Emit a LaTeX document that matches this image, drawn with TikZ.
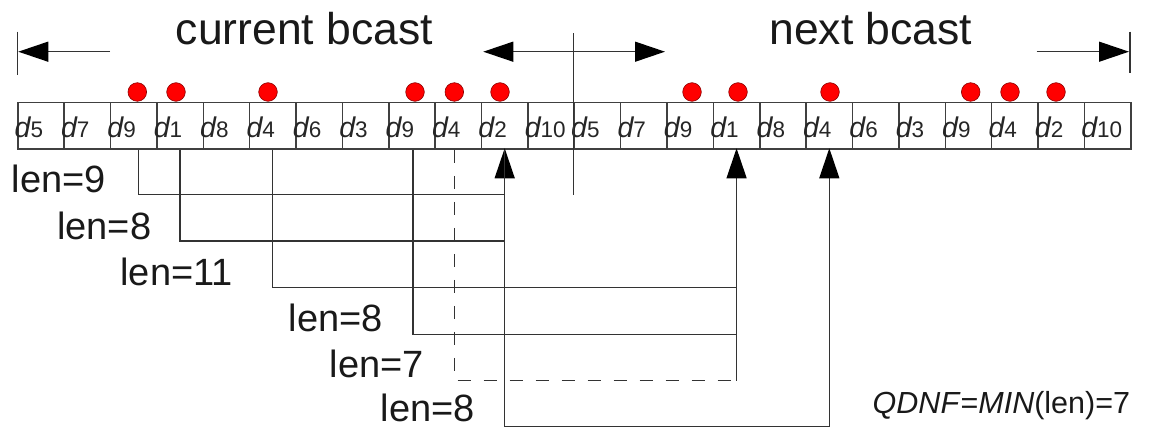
\documentclass[tikz,border=0pt]{standalone}
\usepackage{fontspec}
\setmainfont{Liberation Sans}
\usetikzlibrary{arrows.meta,calc}

% data item label: italic d with a smaller upright index
\newcommand\celld[1]{{\fontsize{28.5}{28}\selectfont\itshape d}{\fontsize{22.5}{22}\selectfont #1}}

\begin{document}
\begin{tikzpicture}[x=1pt,y=-1pt,
  line/.style={draw=black!80, line width=1.3pt},
  dashline/.style={line, line width=1.5pt, dash pattern=on 13pt off 13pt},
  cellbox/.style={draw=black!75, line width=1.5pt, minimum width=46.375pt,
    minimum height=46.6pt, inner sep=0pt, anchor=north west},
  celltext/.style={inner sep=0pt, anchor=base west, text=black!85},
  flag/.style={circle, fill=red, draw=red!55!black, line width=0.6pt,
    minimum size=18.6pt, inner sep=0pt},
  title/.style={inner sep=0pt, anchor=base, font=\fontsize{44.5}{50}\selectfont, text=black!90},
  lenlabel/.style={inner sep=0pt, anchor=base, font=\fontsize{38}{44}\selectfont, text=black!90},
  bigtip/.style={-{Triangle[length=30pt,width=20pt,color=black]}},
]
\useasboundingbox (0,0) rectangle (1151,428);

% broadcast cycle: two identical runs of twelve slots
\foreach \lab [count=\i from 0] in {5,7,9,1,8,4,6,3,9,4,2,10,5,7,9,1,8,4,6,3,9,4,2,10} {
  \node[cellbox] (c\i) at (17+\i*46.375, 101.7) {};
}
\begin{scope}
  \clip (0,100) rectangle (1130,150);
  \foreach \lab [count=\i from 0] in {5,7,9,1,8,4,6,3,9,4,2,10,5,7,9,1,8,4,6,3,9,4,2,10} {
    \node[celltext] (t\i) at ($(c\i.north west)+(-2.5,35.5)$) {\celld{\lab}};
  }
\end{scope}

% requested items
\foreach \x [count=\k] in {137.3,176,268,415,454.3,500,692,738,830,970.7,1010,1056}
  \node[flag] (dot\k) at (\x,92) {};

% titles and extent arrows
\node[title] (cur) at (304.4,45) {current bcast};
\node[title] (nxt) at (870.9,45) {next bcast};

\coordinate (lt) at (17.3,31.7);  \coordinate (lb) at (17.3,75);
\coordinate (la) at (110,51.7);   \coordinate (lh) at (18.3,51.7);
\coordinate (mt) at (573.5,33.3); \coordinate (mb) at (573.5,195);
\coordinate (mm) at (573.5,51.7); \coordinate (ml) at (483.3,51.7);
\coordinate (mr) at (665,51.7);
\coordinate (rt) at (1130,31.7);  \coordinate (rb) at (1130,72.7);
\coordinate (ra) at (1036.7,51.7); \coordinate (rh) at (1129,51.7);

\draw[line] (lt) -- (lb);
\draw[line,bigtip] (la) -- (lh);
\draw[line] (mt) -- (mb);
\draw[line,bigtip] (mm) -- (ml);
\draw[line,bigtip] (mm) -- (mr);
\draw[line] (rt) -- (rb);
\draw[line,bigtip] (ra) -- (rh);

% distance connectors
\coordinate (s2) at ([xshift=4.7pt]c2.south);
\coordinate (s3) at (c3.south);
\coordinate (s5) at (c5.south);
\coordinate (s8) at ([xshift=1pt]c8.south);
\coordinate (s9) at ([xshift=-3.9pt]c9.south);

\coordinate (L1) at (0,194.3);
\coordinate (L2) at (0,241);
\coordinate (L3) at (0,287.7);
\coordinate (L4) at (0,334.3);
\coordinate (L5) at (0,380.7);
\coordinate (L6) at (0,426.3);

\draw[line] (s2) |- (c10.south |- L1);
\draw[line] (s3) |- (c10.south |- L2);
\draw[line] (s5) |- (c15.south |- L3);
\draw[line] (s8) |- (c15.south |- L4);
\draw[dashline] (s9) |- (c15.south |- L5);
\draw[line,bigtip,shorten >=-1.5pt] (c15.south |- L5) -- (c15.south);
\draw[line,bigtip,shorten >=-1.5pt] (c10.south |- L6) -- (c10.south);
\draw[line,bigtip,shorten >=-1.5pt] (c10.south) |- (c17.south |- L6) -- (c17.south);

% distance labels
\node[lenlabel] (n1) at (58.9,192.3) {len=9};
\node[lenlabel] (n2) at (104.2,239) {len=8};
\node[lenlabel] (n3) at (176.7,285) {len=11};
\node[lenlabel] (n4) at (336,331.7) {len=8};
\node[lenlabel] (n5) at (377,377) {len=7};
\node[lenlabel] (n6) at (427.8,421.5) {len=8};

\node[inner sep=0pt, anchor=base, font=\fontsize{30.5}{34}\selectfont, text=black!90]
  (qdnf) at (1001.4,413.3) {\textit{QDNF}=\textit{MIN}(len)=7};
\end{tikzpicture}
\end{document}
